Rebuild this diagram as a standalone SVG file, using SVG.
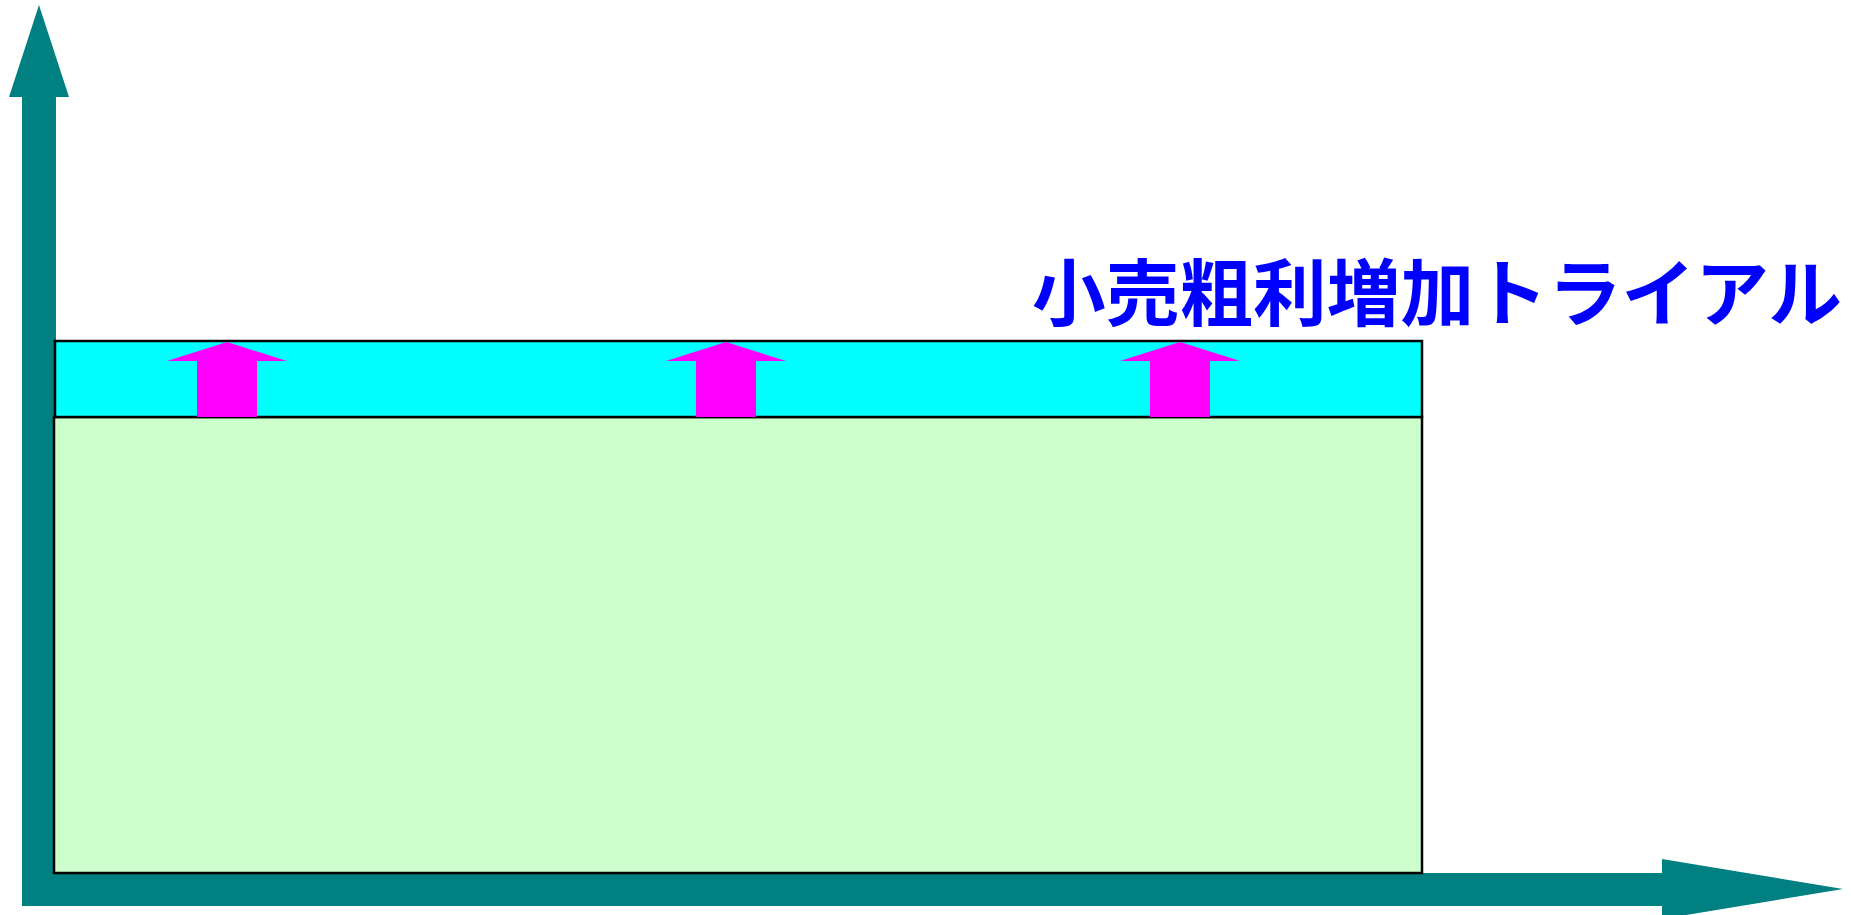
<svg xmlns="http://www.w3.org/2000/svg" width="1851" height="915" viewBox="0 0 1851 915">
<style>
.axis{fill:#008080}
.box{stroke:#000;stroke-width:2.5}
.up{fill:#FF00FF}
.title{font-family:"Noto Sans CJK JP","Noto Sans CJK SC",sans-serif;font-weight:bold;font-size:73px;fill:#0000FF}
</style>
<rect width="1851" height="915" fill="#fff"/>
<g id="connectors">
<polygon class="axis" points="22,906 22,97 9,97 39,5 69,97 56,97 56,906"/>
<polygon class="axis" points="22,873 1662,873 1662,859 1843,889 1662,919 1662,906 22,906"/>
</g>
<g id="base">
<rect class="box" x="54" y="417" width="1368" height="456" fill="#CCFFCC"/>
</g>
<g id="increase">
<rect class="box" x="55" y="341" width="1367" height="76" fill="#00FFFF"/>
</g>
<g id="arrow1"><polygon class="up" points="197,417 197,361 167,361 227,342 287,361 257,361 257,417"/></g>
<g id="arrow2"><polygon class="up" points="696,417 696,361 666,361 726,342 786,361 756,361 756,417"/></g>
<g id="arrow3"><polygon class="up" points="1150,417 1150,361 1120,361 1180,342 1240,361 1210,361 1210,417"/></g>
<g id="title"><text class="title" x="1032" y="320" textLength="810" lengthAdjust="spacingAndGlyphs">小売粗利増加トライアル</text></g>
</svg>
